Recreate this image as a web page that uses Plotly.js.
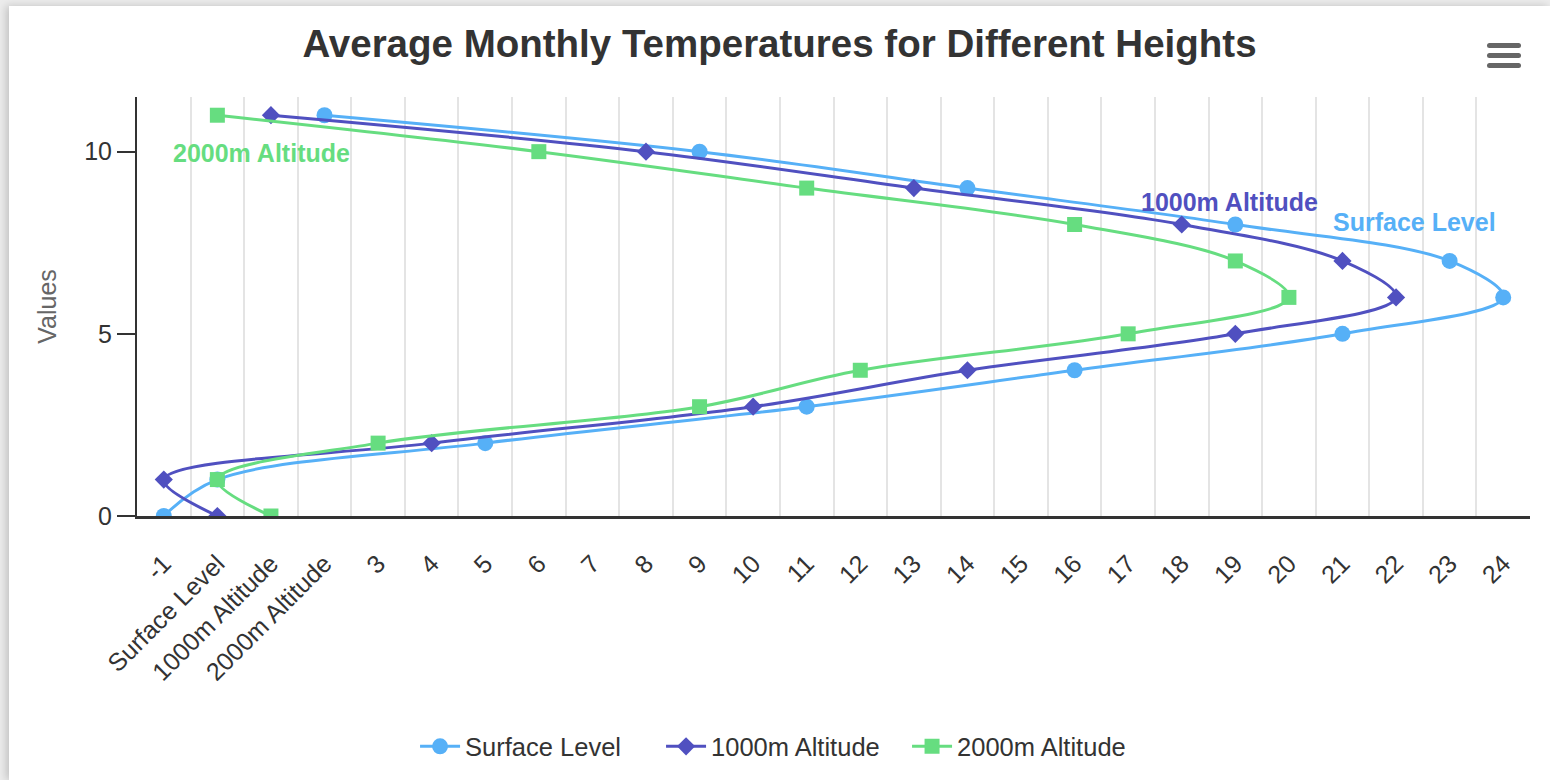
<!DOCTYPE html>
<html>
<head>
<meta charset="utf-8">
<script src="https://cdn.plot.ly/plotly-3.0.1.min.js"></script>
<style>
  html, body { margin: 0; padding: 0; background: #ececec; width: 1550px; height: 780px; overflow: hidden; }
  #card { position: absolute; left: 9px; top: 6px; width: 1541px; height: 774px; background: #fff;
          box-shadow: -3px 0 8px rgba(0,0,0,0.18); }
  #chart { position: absolute; left: 0; top: 0; width: 1541px; height: 774px; }
  #menu { position: absolute; left: 1478px; top: 37px; width: 34px; }
  #menu div { height: 5px; background: #666; border-radius: 3px; margin-bottom: 5px; }
</style>
</head>
<body>
<div id="card">
  <div id="chart"></div>
  <div id="menu"><div></div><div></div><div></div></div>
</div>
<script>
// Month index (y) for each point
const months = [0, 1, 2, 3, 4, 5, 6, 7, 8, 9, 10, 11];

// Temperatures (x) per series
const surfaceLevel = [-1, 0, 5, 11, 16, 21, 24, 23, 19, 14, 9, 2];
const alt1000 = [0, -1, 4, 10, 14, 19, 22, 21, 18, 13, 8, 1];
const alt2000 = [1, 0, 3, 9, 12, 17, 20, 19, 16, 11, 6, 0];

const seriesNames = ['Surface Level', '1000m Altitude', '2000m Altitude'];
const seriesColors = ['#56b0f7', '#5050c0', '#66dd80'];
const seriesSymbols = ['circle', 'diamond', 'square'];

// X tick values and labels
const xTickVals = [-1, 0, 1, 2, 3, 4, 5, 6, 7, 8, 9, 10, 11, 12, 13, 14, 15, 16, 17, 18, 19, 20, 21, 22, 23, 24];
const xTickText = ['-1', 'Surface Level', '1000m Altitude', '2000m Altitude', '3', '4', '5', '6', '7', '8', '9', '10',
  '11', '12', '13', '14', '15', '16', '17', '18', '19', '20', '21', '22', '23', '24'];

// Series label positions (data coords)
const labelX = [22.34, 18.9, 0.83];
const labelY = [8.08, 8.63, 9.97];

const seriesData = [surfaceLevel, alt1000, alt2000];
const markerSizes = [16, 14, 15];

const traces = seriesData.map((vals, i) => ({
  type: 'scatter',
  mode: 'lines+markers',
  name: seriesNames[i],
  x: vals,
  y: months,
  line: { color: seriesColors[i], width: 3, shape: 'spline', smoothing: 1 },
  marker: { color: seriesColors[i], size: markerSizes[i], symbol: seriesSymbols[i] }
}));

const gridVals = xTickVals.map(v => v - 0.5).concat([xTickVals[xTickVals.length - 1] + 0.5]);

const annotations = seriesNames.map((n, i) => ({
  x: labelX[i], y: labelY[i], xref: 'x', yref: 'y',
  text: '<b>' + n + '</b>', showarrow: false,
  font: { family: 'Liberation Sans, Arial, sans-serif', size: 25, color: seriesColors[i] },
  xanchor: 'center', yanchor: 'middle'
}));

const layout = {
  width: 1541, height: 774,
  margin: { l: 128, r: 20, t: 91, b: 264 },
  paper_bgcolor: 'rgba(0,0,0,0)', plot_bgcolor: 'rgba(0,0,0,0)',
  font: { family: 'Liberation Sans, Arial, sans-serif', size: 25, color: '#333' },
  title: {
    text: '<b>Average Monthly Temperatures for Different Heights</b>',
    font: { size: 38.5, color: '#333' },
    x: 0.5, xref: 'container', xanchor: 'center',
    y: 0.951, yref: 'container', yanchor: 'middle'
  },
  xaxis: {
    range: [-1.5, 24.5],
    tickmode: 'array', tickvals: xTickVals, ticktext: xTickText,
    tickangle: -45,
    ticklabelstandoff: 20,
    showgrid: false, zeroline: false,
    showline: true, linecolor: '#333', linewidth: 3,
    ticks: '',
    tickfont: { size: 25, color: '#333' },
    minor: { tickmode: 'array', tickvals: gridVals, showgrid: true, gridcolor: '#e4e4e4', gridwidth: 2, ticks: '' }
  },
  yaxis: {
    range: [0, 11.5],
    tickvals: [0, 5, 10],
    showgrid: false, zeroline: false,
    showline: true, linecolor: '#333', linewidth: 2,
    ticks: 'outside', ticklen: 18, tickwidth: 2, tickcolor: '#333',
    tickfont: { size: 25, color: '#333' },
    title: { text: 'Values', font: { size: 25, color: '#666' }, standoff: 20 }
  },
  showlegend: true,
  legend: {
    orientation: 'h', x: 0.2635, xref: 'container', xanchor: 'left',
    y: 0.043, yref: 'container', yanchor: 'middle',
    font: { size: 25.5, color: '#333' }, itemwidth: 40,
    entrywidth: 191, entrywidthmode: 'pixels', bgcolor: 'rgba(0,0,0,0)'
  },
  annotations: annotations
};

Plotly.newPlot('chart', traces, layout, { displayModeBar: false, responsive: false });
</script>
</body>
</html>
